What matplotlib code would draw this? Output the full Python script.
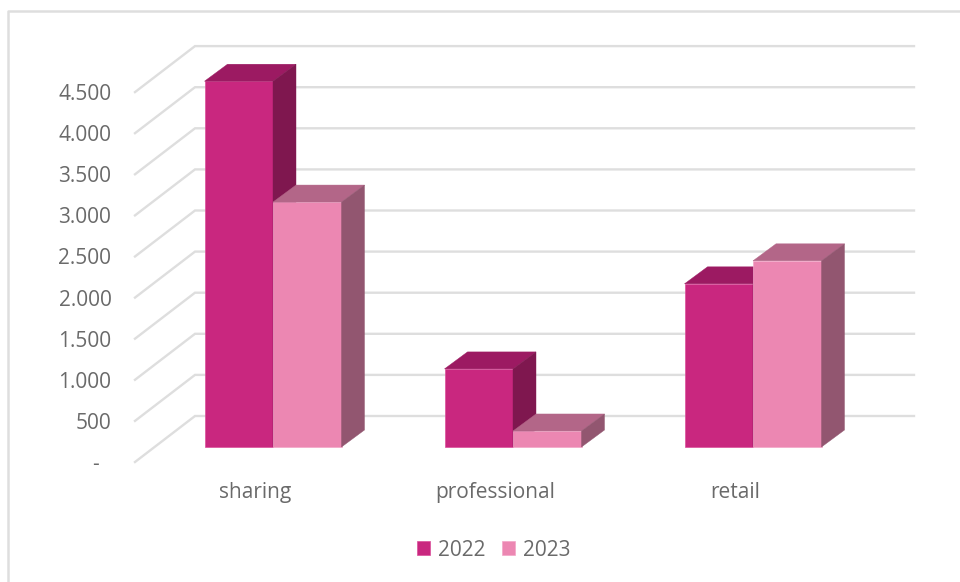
import matplotlib
matplotlib.use('Agg')
import matplotlib.pyplot as plt
from matplotlib.lines import Line2D
from matplotlib.patches import Polygon, Patch
from matplotlib.transforms import ScaledTranslation

# Donnees
categories = ['sharing', 'professional', 'retail']
series_names = ['2022', '2023']
values_2022 = [4450, 950, 1985]
values_2023 = [2980, 195, 2265]
y_ticks = [0, 500, 1000, 1500, 2000, 2500, 3000, 3500, 4000, 4500]
y_labels = ['-', '500', '1.000', '1.500', '2.000', '2.500', '3.000', '3.500', '4.000', '4.500']

# Couleurs : face avant, dessus, cote
colors_2022 = ('#C9277F', '#9C1A62', '#7F174F')
colors_2023 = ('#EC87B2', '#B36688', '#925670')
edge_2022 = '#DB4F9B'
edge_2023 = '#F3A6C8'
grid_color = '#DEDEDE'
text_color = '#6A6A6A'

W, H = 960, 582
plt.rcParams['font.family'] = ['Open Sans', 'DejaVu Sans']

fig = plt.figure(figsize=(W / 100, H / 100), dpi=100)

# Axes en pixels : plan avant a gauche (135) jusqu'au fond a droite (914)
left, right, top, bottom = 135, 914, 46, 462
ax = fig.add_axes([left / W, 1 - bottom / H, (right - left) / W, (bottom - top) / H])
px_per_cat = 240.0
px_per_val = 41.1 / 500
ax.set_xlim(-0.5, -0.5 + (right - left) / px_per_cat)
ax.set_ylim(0, (bottom - top) / px_per_val)
ax.patch.set_alpha(0)
for s in ax.spines.values():
    s.set_visible(False)

# Profondeur du mur du fond, et decalage / profondeur des barres
wall_dx, wall_dy = 60 / px_per_cat, 46 / px_per_val
lift_dx, lift_dy = 18 / px_per_cat, 15 / px_per_val
bar_dx, bar_dy = 23 / px_per_cat, 17 / px_per_val
bar_width = 68.5 / px_per_cat

# Grille : diagonale sur le cote gauche puis ligne horizontale au fond
x_start = ax.get_xlim()[0]
wall_right = ax.get_xlim()[1]
for t in y_ticks:
    ax.plot([x_start, x_start + wall_dx, wall_right], [t, t + wall_dy, t + wall_dy],
            color=grid_color, lw=1.7, zorder=1, clip_on=False, solid_joinstyle='miter')


def draw_bars(xs, vals, colors, edge):
    bars = ax.bar(xs, vals, bar_width, bottom=lift_dy, color=colors[0], edgecolor=edge,
                  linewidth=0.5, zorder=3)
    for b in bars:
        x0, x1 = b.get_x(), b.get_x() + b.get_width()
        y0, y1 = b.get_y(), b.get_y() + b.get_height()
        ax.add_patch(Polygon([(x0, y1), (x1, y1), (x1 + bar_dx, y1 + bar_dy), (x0 + bar_dx, y1 + bar_dy)],
                             facecolor=colors[1], edgecolor=colors[1], linewidth=0.3, zorder=3))
        ax.add_patch(Polygon([(x1, y0), (x1 + bar_dx, y0 + bar_dy), (x1 + bar_dx, y1 + bar_dy), (x1, y1)],
                             facecolor=colors[2], edgecolor=colors[2], linewidth=0.3, zorder=3))


centers = [i + lift_dx for i in range(len(categories))]
draw_bars([c - bar_width / 2 for c in centers], values_2022, colors_2022, edge_2022)
draw_bars([c + bar_width / 2 for c in centers], values_2023, colors_2023, edge_2023)

# Axes
ax.set_yticks(y_ticks)
ax.set_yticklabels(y_labels)
ax.set_xticks(range(len(categories)))
ax.set_xticklabels(categories)
ax.tick_params(axis='y', length=0, pad=17, labelsize=15, labelcolor=text_color)
ax.tick_params(axis='x', length=0, pad=14.5, labelsize=15, labelcolor=text_color)
dash = ax.get_yticklabels()[0]
dash.set_transform(dash.get_transform() + ScaledTranslation(-13 / 100, 0, fig.dpi_scale_trans))

# Legende
handles = [Patch(facecolor=colors_2022[0], edgecolor=edge_2022, linewidth=0.5),
           Patch(facecolor=colors_2023[0], edgecolor=edge_2023, linewidth=0.5)]
fig.legend(handles, series_names, loc='center', bbox_to_anchor=(494 / W, 1 - 550 / H), ncol=2,
           frameon=False, fontsize=15, labelcolor=text_color, handlelength=0.62, handleheight=0.62,
           handletextpad=0.39, columnspacing=0.77)

# Cadre du graphique
frame_x = [8 / W, 8 / W, 1]
frame_y = [0, 1 - 11 / H, 1 - 11 / H]
fig.add_artist(Line2D(frame_x, frame_y, color=grid_color, lw=1.8, transform=fig.transFigure))

fig.savefig('out.png', dpi=100)
